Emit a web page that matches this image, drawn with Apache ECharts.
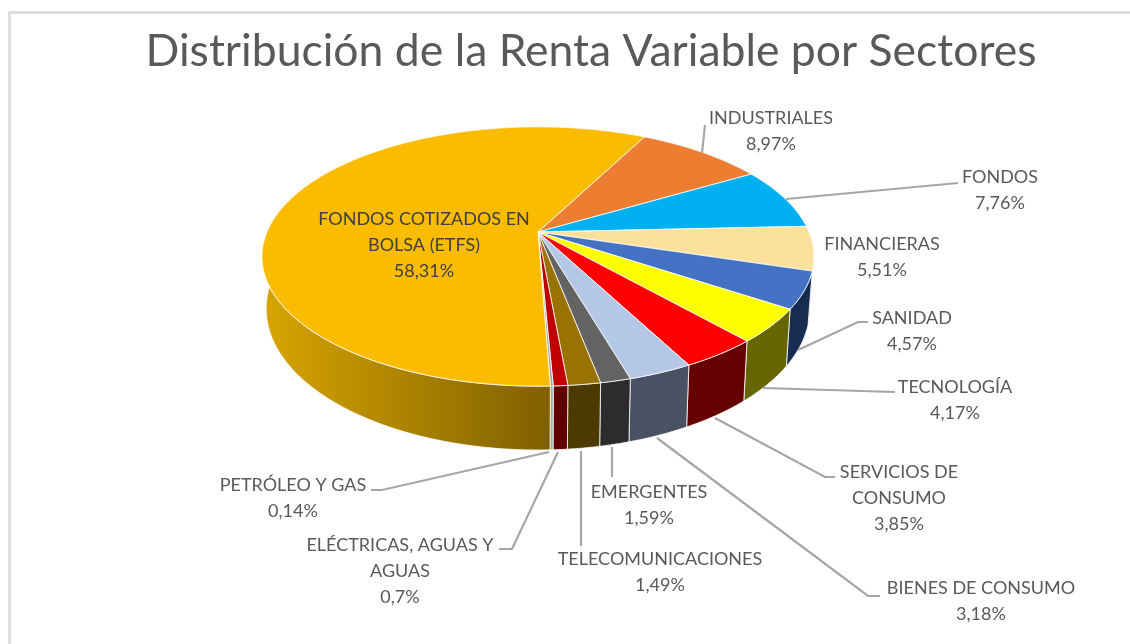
<!DOCTYPE html>
<html>
<head>
<meta charset="utf-8">
<title>Distribución de la Renta Variable por Sectores</title>
<script src="https://cdn.jsdelivr.net/npm/echarts@6/dist/echarts.min.js"></script>
<style>
	html, body { margin: 0; padding: 0; background: #fff; }
	#chart { width: 1130px; height: 644px; }
</style>
</head>
<body>
<div id="chart"></div>
<script>
var chartTitle = 'Distribución de la Renta Variable por Sectores';

// clockwise from the ETF / industriales boundary, ETF last
var categories = ['INDUSTRIALES', 'FONDOS', 'FINANCIERAS', 'SANIDAD', 'TECNOLOGÍA', 'SERVICIOS DE\nCONSUMO',
	'BIENES DE CONSUMO', 'TELECOMUNICACIONES', 'EMERGENTES', 'ELÉCTRICAS, AGUAS Y\nAGUAS', 'PETRÓLEO Y GAS',
	'FONDOS COTIZADOS EN\nBOLSA (ETFS)'];
var values = [8.97, 7.76, 5.51, 4.57, 4.17, 3.85, 3.18, 1.49, 1.59, 0.7, 0.14, 58.31];

var topColors = ['#ED7D31', '#00B0F0', '#FBE199', '#4472C4', '#FFFF00', '#FF0000',
	'#B4C7E7', '#636363', '#997300', '#C00000', '#A5A5A5', '#FBBC00'];
var sideColors = ['#8E4B1D', '#006A90', '#97875C', '#172C51', '#666600', '#660000',
	'#495262', '#2C2C2C', '#4D3A00', '#600000', '#A5A5A5', null];
var etfSideStops = [{offset: 0, color: '#D8A500'}, {offset: 1, color: '#7F6000'}];

// label centre [x, y] and leader line for each slice
var labelCentres = [[771, 130], [1000, 189], [882, 256], [912, 330], [955, 399], [899, 497],
	[981, 600], [660, 571], [649, 504], [400, 570], [293, 497], [424, 244]];
var leaderLines = [
	[[705, 125], [702, 153]],
	[[958, 183], [786, 199]],
	[],
	[[868, 322], [858, 322], [798, 350]],
	[[895, 392], [763, 388]],
	[[835, 477], [825, 477], [715, 418]],
	[[880, 596], [868, 596], [657, 438]],
	[[581, 546], [581, 451]],
	[[612, 477], [612, 447]],
	[[499, 549], [512, 549], [558, 452]],
	[[371, 490], [382, 490], [549, 452]],
	[]
];

// projection of the tilted disc
var centerX = 538, centerY = 232;
var radiusX = 271, radiusY = 125, tilt = 0.189;
var floorDrop = 50, floorScaleX = 0.985, floorScaleY = 1.09;
var startAngle = 27.3;

var total = values.reduce(function (a, b) { return a + b; }, 0);

function project(deg, isFloor) {
	var rad = deg * Math.PI / 180;
	var u = Math.sin(rad), v = -Math.cos(rad);
	var d = 1 - tilt * v;
	return [
		centerX + (isFloor ? floorScaleX : 1) * radiusX * u / d,
		centerY + (isFloor ? floorScaleY : 1) * radiusY * v / d + (isFloor ? floorDrop : 0)
	];
}

function arcPoints(from, to, isFloor) {
	var pts = [];
	var n = Math.max(2, Math.ceil((to - from) * 2));
	for (var i = 0; i <= n; i++) {
		pts.push(project(from + (to - from) * i / n, isFloor));
	}
	return pts;
}

function formatPercent(v) {
	return String(v).replace('.', ',') + '%';
}

function renderSlice(params, api) {
	var i = params.dataIndex;
	var before = 0;
	for (var k = 0; k < i; k++) {
		before += values[k];
	}
	var from = startAngle + before / total * 360;
	var to = from + api.value(0) / total * 360;

	var rim = arcPoints(from, to, false);
	var floor = arcPoints(from, to, true).reverse();
	var sideFill = sideColors[i] || new echarts.graphic.LinearGradient(262, 0, 551, 0, etfSideStops, true);

	var children = [
		{
			type: 'polygon',
			z2: 1,
			shape: {points: rim.concat(floor)},
			style: {fill: sideFill, stroke: '#fff', lineWidth: 0.8}
		},
		{
			type: 'polygon',
			z2: 2,
			shape: {points: [[centerX, centerY]].concat(rim)},
			style: {fill: topColors[i], stroke: '#fff', lineWidth: 0.8}
		},
		{
			type: 'text',
			z2: 5,
			style: {
				text: categories[i] + '\n' + formatPercent(values[i]),
				x: labelCentres[i][0],
				y: labelCentres[i][1] + 1,
				align: 'center',
				verticalAlign: 'middle',
				fontFamily: 'Lato',
				fontSize: 18,
				lineHeight: 26,
				fill: i === 11 ? '#404040' : '#595959'
			}
		}
	];
	if (leaderLines[i].length) {
		children.push({
			type: 'polyline',
			z2: 3,
			shape: {points: leaderLines[i]},
			style: {fill: 'none', stroke: '#A6A6A6', lineWidth: 2.2}
		});
	}
	return {type: 'group', children: children};
}

var chart = echarts.init(document.getElementById('chart'));
chart.setOption({
	animation: false,
	backgroundColor: '#fff',
	title: {
		text: chartTitle,
		left: 586,
		top: 24,
		textAlign: 'center',
		textStyle: {color: '#595959', fontFamily: 'Lato', fontWeight: 'normal', fontSize: 44.5}
	},
	graphic: [
		{type: 'polyline', silent: true, shape: {points: [[9.5, 644], [9.5, 12.5], [1130, 12.5]]},
			style: {fill: 'none', stroke: '#D9D9D9', lineWidth: 2.5}}
	],
	series: [{
		type: 'custom',
		coordinateSystem: 'none',
		silent: true,
		renderItem: renderSlice,
		data: values.map(function (v) { return [v]; })
	}]
});
</script>
</body>
</html>
